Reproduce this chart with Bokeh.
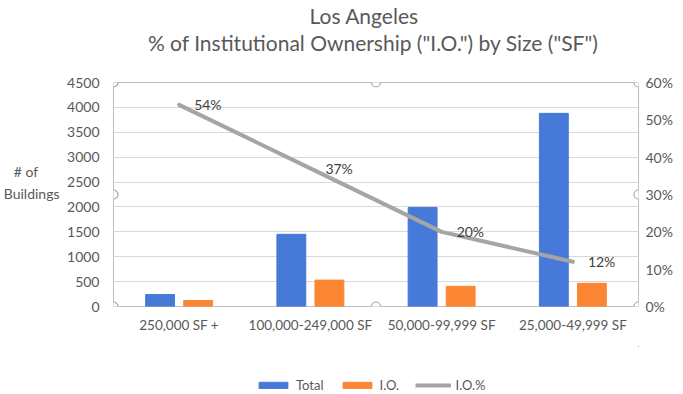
from bokeh.plotting import figure
from bokeh.layouts import column
from bokeh.models import (FactorRange, Range1d, LinearAxis, NumeralTickFormatter, FixedTicker,
                          Legend, LegendItem, LabelSet, ColumnDataSource, Title)
from bokeh.transform import dodge
from bokeh.core.properties import value
from bokeh.embed import file_html
from bokeh.resources import INLINE

categories = ["250,000 SF +", "100,000-249,000 SF", "50,000-99,999 SF", "25,000-49,999 SF"]
total = [240, 1450, 1990, 3880]
io = [120, 530, 405, 465]
io_pct = [0.54, 0.37, 0.20, 0.12]
pct_labels = ["54%", "37%", "20%", "12%"]
left_ticks = [0, 500, 1000, 1500, 2000, 2500, 3000, 3500, 4000, 4500]
right_ticks = [0, 0.1, 0.2, 0.3, 0.4, 0.5, 0.6]
y_title = "# of" + "\u00a0" * 6 + "\nBuildings"
series_names = ["Total", "I.O.", "I.O.%"]

FONT = "Lato"
TXT = "#595959"
BLUE = "#4779D9"
ORANGE = "#FA8633"
GREY = "#A5A5A5"

src = ColumnDataSource(dict(cat=categories, total=total, io=io, pct=io_pct, lab=pct_labels))

p = figure(x_range=FactorRange(*categories, range_padding=0),
           y_range=Range1d(left_ticks[0], left_ticks[-1]),
           frame_width=525, frame_height=224, output_backend="svg", toolbar_location=None,
           min_border_left=113, min_border_right=45, min_border_top=0, min_border_bottom=40,
           title=None)
p.extra_y_ranges = {"pct": Range1d(right_ticks[0], right_ticks[-1])}

p.vbar(x=dodge("cat", -0.145, range=p.x_range), top="total", width=0.22, source=src,
       color=BLUE)
p.vbar(x=dodge("cat", 0.145, range=p.x_range), top="io", width=0.22, source=src,
       color=ORANGE)
p.line(x="cat", y="pct", source=src, y_range_name="pct", line_color=GREY,
       line_width=4, line_cap="round")

labels = LabelSet(x="cat", y="pct", text="lab", source=src, y_range_name="pct",
                  x_offset=15, text_baseline="middle", text_align="left",
                  text_font=value(FONT), text_font_size="14px", text_color="#404040")
p.add_layout(labels)

# selection handles on the plot-area border (corners and mid-points of the ranges)
n = len(categories)
ymax = left_ticks[-1]
p.scatter(x=[0, n / 2, n, 0, n, 0, n / 2, n],
          y=[ymax, ymax, ymax, ymax / 2, ymax / 2, 0, 0, 0],
          marker="circle", size=9, fill_color="white", line_color="#A6A6A6", line_width=1.2)

right = LinearAxis(y_range_name="pct", ticker=FixedTicker(ticks=right_ticks),
                   formatter=NumeralTickFormatter(format="0%"))
p.add_layout(right, "right")

# horizontal two-line axis title on the left, drawn as the label of an outer axis
ytitle = LinearAxis(ticker=FixedTicker(ticks=[2490]), major_label_overrides={2490: y_title})
p.add_layout(ytitle, "left")

p.yaxis[0].ticker = FixedTicker(ticks=left_ticks)
for ax in p.axis:
    ax.axis_line_color = None
    ax.major_tick_line_color = None
    ax.minor_tick_line_color = None
    ax.major_tick_out = 0
    ax.major_tick_in = 0
    ax.minor_tick_out = 0
    ax.minor_tick_in = 0
    ax.major_label_text_font = FONT
    ax.major_label_text_font_size = "14px"
    ax.major_label_text_color = TXT
p.yaxis[0].major_label_standoff = 14
ytitle.major_label_standoff = 5
ytitle.major_label_text_line_height = 1.3
right.major_label_standoff = 7
p.xaxis.major_label_standoff = 10
p.xaxis.major_label_text_font_size = "13.5px"

p.xgrid.grid_line_color = None
p.ygrid.grid_line_color = "#D9D9D9"
p.outline_line_color = "#BFBFBF"

tkw = dict(text_font=FONT, text_font_size="21px", text_font_style="normal", text_color=TXT)
p.add_layout(Title(text=" ", standoff=19, align="center", text_font_size="7px"), "above")
p.add_layout(Title(text="% of Institutional Ownership (\"I.O.\")  by Size (\"SF\")",
                   standoff=0, align="center", **tkw), "above")
p.add_layout(Title(text="Los Angeles", standoff=0, align="left", offset=196, **tkw), "above")

# legend strip under the chart (proxy renderers fall outside this strip's ranges)
lf = figure(width=683, height=48, x_range=Range1d(-2, -1), y_range=Range1d(-2, -1),
            output_backend="svg", toolbar_location=None, x_axis_type=None, y_axis_type=None,
            min_border_left=0, min_border_right=0, min_border_top=0, min_border_bottom=0)
lf.grid.grid_line_color = None
lf.outline_line_color = None
g_total = lf.vbar(x="total", top="total", width=0.1, color=BLUE, source=src)
g_io = lf.vbar(x="io", top="io", width=0.1, color=ORANGE, source=src)
g_pct = lf.line(x="total", y="pct", line_color=GREY, line_width=4, source=src)
legend = Legend(items=[LegendItem(label=series_names[0], renderers=[g_total]),
                       LegendItem(label=series_names[1], renderers=[g_io]),
                       LegendItem(label=series_names[2], renderers=[g_pct])],
                orientation="horizontal", location=(142, 1), border_line_color=None,
                background_fill_alpha=0, label_standoff=5,
                label_text_font=FONT, label_text_font_size="13px", label_text_color=TXT,
                glyph_width=36, glyph_height=8, spacing=15, margin=0, padding=0)
lf.add_layout(legend, "center")

layout = column(p, lf, spacing=0)
open("out.html", "w").write(file_html(layout, INLINE))
